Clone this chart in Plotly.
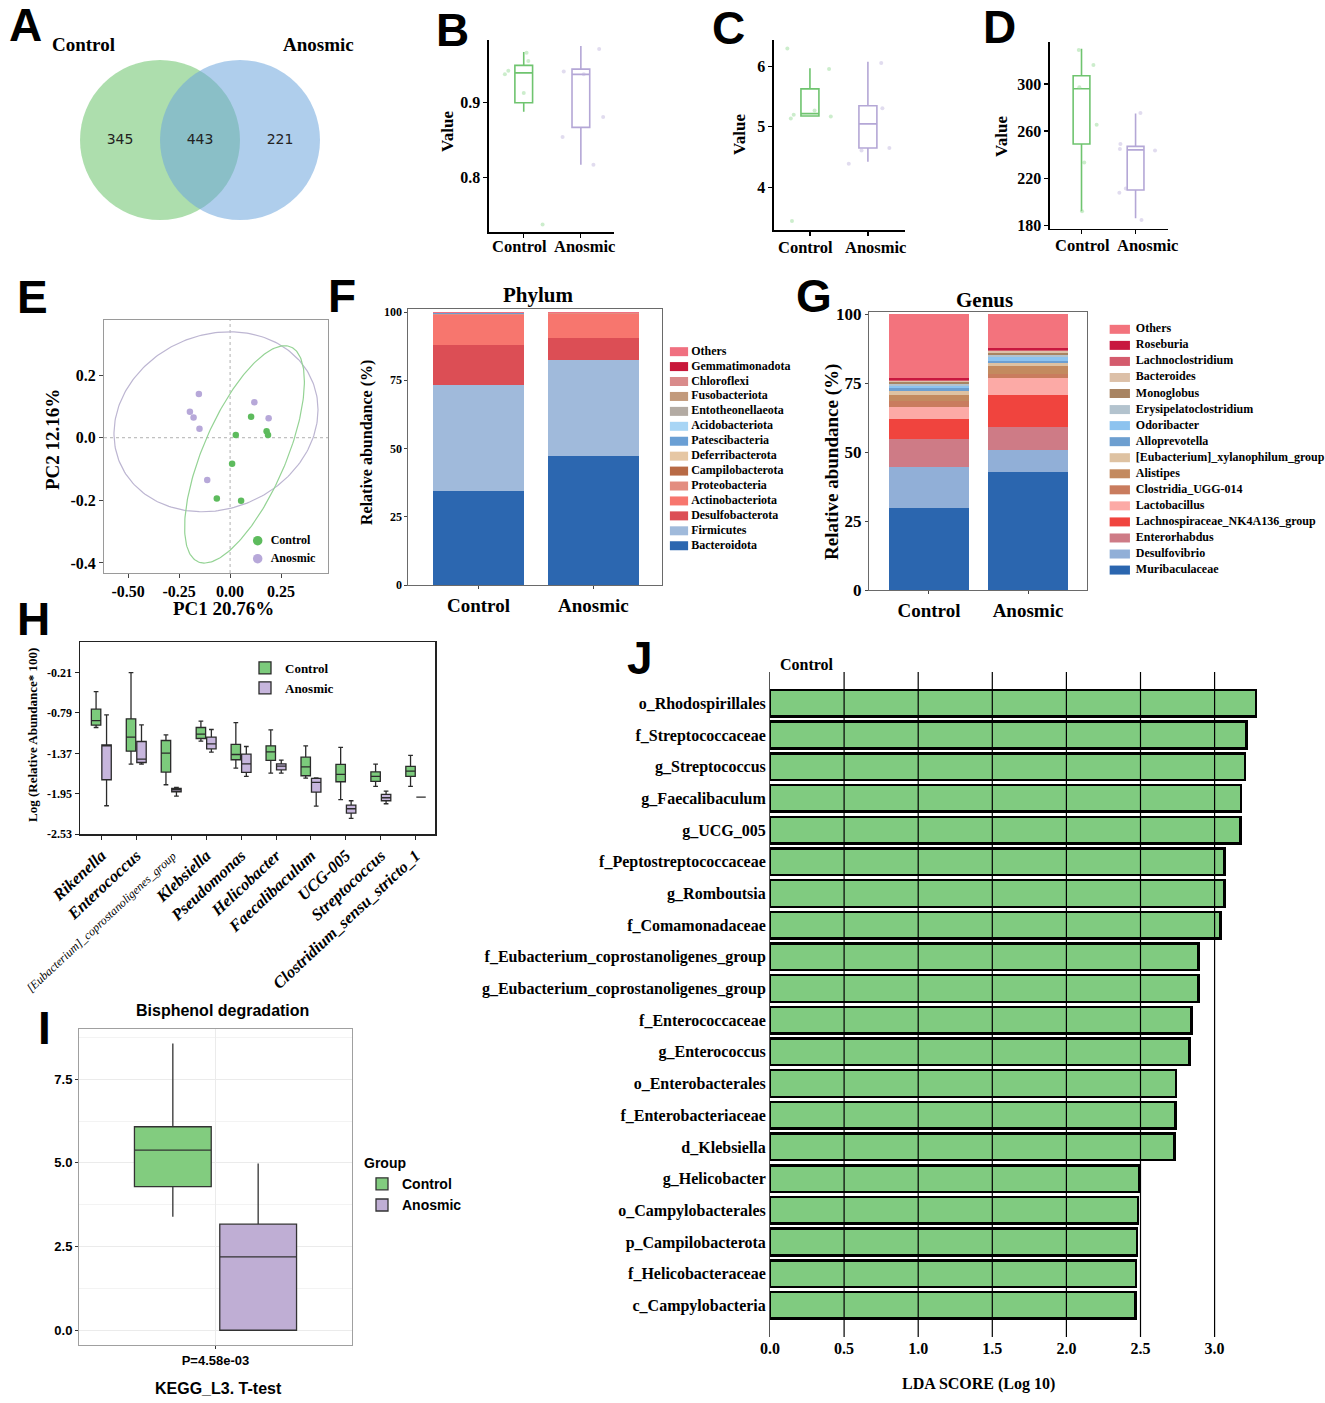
import numpy as np
import plotly.graph_objects as go

W, H = 1325, 1403
SERIF = "Liberation Serif"
SANS = "Liberation Sans"
NB = "\u00a0"

# ------------------------------------------------------------------ data
groups = ["Control", "Anosmic"]

# A  Venn diagram (OTU counts): Control only, shared, Anosmic only
venn_counts = [345, 443, 221]

# B, C, D  alpha diversity boxes: [lower whisker, q1, median, q3, upper whisker]
b_box = {"Control": [0.888, 0.900, 0.940, 0.950, 0.968],
         "Anosmic": [0.817, 0.867, 0.938, 0.945, 0.976]}
c_box = {"Control": [5.18, 5.18, 5.22, 5.63, 5.97],
         "Anosmic": [4.42, 4.65, 5.05, 5.35, 6.08]}
d_box = {"Control": [192, 249, 296, 307, 330],
         "Anosmic": [186, 210, 244, 247, 275]}
# faint sample points (jitter offset from group, value)
b_pts_off = {"Control": [-0.33, -0.27, 0.00, 0.05, 0.08, 0.33],
             "Anosmic": [-0.30, -0.32, 0.05, 0.32, 0.39, 0.22]}
b_pts_val = {"Control": [0.938, 0.943, 0.913, 0.967, 0.956, 0.737],
             "Anosmic": [0.942, 0.854, 0.938, 0.972, 0.881, 0.817]}
c_pts_off = {"Control": [-0.39, -0.33, -0.28, -0.31, 0.08, 0.33, 0.36],
             "Anosmic": [-0.33, -0.11, 0.23, 0.25, 0.37]}
c_pts_val = {"Control": [6.30, 5.14, 5.20, 3.44, 5.27, 5.96, 5.17],
             "Anosmic": [4.39, 4.61, 6.06, 5.31, 4.65]}
d_pts_off = {"Control": [-0.05, 0.22, -0.04, 0.28, 0.05, 0.01],
             "Anosmic": [0.09, -0.28, -0.29, 0.36, -0.30, -0.18, 0.11]}
d_pts_val = {"Control": [328.9, 316.1, 297.2, 265.4, 233.4, 192.0],
             "Anosmic": [275.4, 249.0, 244.8, 243.6, 207.6, 211.3, 184.4]}

# E  PCA
pca_ctrl_pc1 = [0.103, 0.028, 0.179, 0.186, 0.010, -0.065, 0.054]
pca_ctrl_pc2 = [0.067, 0.009, 0.021, 0.009, -0.083, -0.194, -0.201]
pca_anos_pc1 = [-0.153, -0.197, -0.179, -0.150, 0.119, 0.189, -0.112]
pca_anos_pc2 = [0.140, 0.083, 0.065, 0.029, 0.113, 0.062, -0.135]

# F  phylum composition (%), stacked bottom -> top
phylum_names = ["Bacteroidota", "Firmicutes", "Desulfobacterota", "Actinobacteriota",
                "Proteobacteria", "Campilobacterota", "Deferribacterota", "Patescibacteria",
                "Acidobacteriota", "Entotheonellaeota", "Fusobacteriota", "Chloroflexi",
                "Gemmatimonadota", "Others"]
phylum_control = [34.6, 38.5, 15.0, 10.8, 0.4, 0.1, 0.05, 0.03, 0.02, 0.02, 0.02, 0.02, 0.01, 0.43]
phylum_anosmic = [47.4, 35.2, 8.0, 8.8, 0.2, 0.05, 0.02, 0.01, 0.01, 0.01, 0.01, 0.01, 0.01, 0.27]
phylum_colors = ["#2C67B0", "#A0BADB", "#DC4E55", "#F7766E", "#E38D80", "#B86A45",
                 "#E6C7A4", "#6A9FD4", "#A8D5F5", "#B3ABA3", "#C29A7C", "#D98B8B",
                 "#C8173A", "#F07080"]

# G  genus composition (%), stacked bottom -> top
genus_names = ["Muribaculaceae", "Desulfovibrio", "Enterorhabdus",
               "Lachnospiraceae_NK4A136_group", "Lactobacillus", "Clostridia_UGG-014",
               "Alistipes", "[Eubacterium]_xylanophilum_group", "Alloprevotella",
               "Odoribacter", "Erysipelatoclostridium", "Monoglobus", "Bacteroides",
               "Lachnoclostridium", "Roseburia", "Others"]
genus_control = [29.7, 15.0, 10.2, 7.0, 4.5, 2.0, 2.3, 1.3, 1.2, 0.8, 0.7, 0.8, 0.4, 0.3, 0.7, 23.1]
genus_anosmic = [42.9, 7.8, 8.5, 11.4, 6.1, 1.7, 2.9, 0.9, 0.9, 1.3, 0.7, 0.8, 0.7, 0.5, 0.6, 12.3]
genus_colors = ["#2B66AF", "#91AFD7", "#CE7B86", "#F0443E", "#FCAAA6", "#C97C5E",
                "#C38A5F", "#DEC2A2", "#6D9FD0", "#8DC3EF", "#B3C3CE", "#A88462",
                "#DCC0A8", "#D45B6D", "#C8173F", "#F3737D"]

# H  differential genera, log(relative abundance*100)
h_genera = ["Rikenella", "Enterococcus", "[Eubacterium]_coprostanoligenes_group",
            "Klebsiella", "Pseudomonas", "Helicobacter", "Faecalibaculum", "UCG-005",
            "Streptococcus", "Clostridium_sensu_stricto_1"]
h_yticks = [-2.53, -1.95, -1.37, -0.79, -0.21]
h_ctrl_low = [-0.999, -1.526, -1.822, -1.196, -1.583, -1.655, -1.727, -2.037, -1.846, -1.846]
h_ctrl_q1 = [-0.966, -1.339, -1.640, -1.157, -1.463, -1.473, -1.693, -1.779, -1.774, -1.703]
h_ctrl_med = [-0.899, -1.138, -1.368, -1.095, -1.387, -1.349, -1.564, -1.674, -1.703, -1.626]
h_ctrl_q3 = [-0.736, -0.875, -1.186, -0.999, -1.243, -1.262, -1.425, -1.530, -1.636, -1.559]
h_ctrl_up = [-0.483, -0.210, -1.105, -0.908, -0.928, -1.033, -1.262, -1.286, -1.526, -1.401]
h_anos_low = [-2.124, -1.526, -1.985, -1.353, -1.703, -1.655, -2.128, -2.305, -2.095, -2.000]
h_anos_q1 = [-1.750, -1.502, -1.923, -1.306, -1.645, -1.607, -1.927, -2.229, -2.052, -2.000]
h_anos_med = [-1.262, -1.454, -1.894, -1.234, -1.521, -1.554, -1.789, -2.167, -2.009, -2.000]
h_anos_q3 = [-1.248, -1.200, -1.875, -1.138, -1.382, -1.521, -1.731, -2.114, -1.961, -2.000]
h_anos_up = [-0.818, -0.961, -1.860, -1.028, -1.272, -1.468, -1.722, -2.052, -1.913, -2.000]

# I  Bisphenol degradation (KEGG L3): [lower whisker, q1, median, q3, upper whisker]
i_category = "P=4.58e-03"
i_ctrl = [3.39, 4.29, 5.38, 6.08, 8.57]
i_anos = [0.00, 0.00, 2.19, 3.17, 4.98]

# J  LEfSe LDA scores
lda_features = ["o_Rhodospirillales", "f_Streptococcaceae", "g_Streptococcus",
                "g_Faecalibaculum", "g_UCG_005", "f_Peptostreptococcaceae", "g_Romboutsia",
                "f_Comamonadaceae", "f_Eubacterium_coprostanoligenes_group",
                "g_Eubacterium_coprostanoligenes_group", "f_Enterococcaceae", "g_Enterococcus",
                "o_Enterobacterales", "f_Enterobacteriaceae", "d_Klebsiella", "g_Helicobacter",
                "o_Campylobacterales", "p_Campilobacterota", "f_Helicobacteraceae",
                "c_Campylobacteria"]
lda_scores = [3.279, 3.215, 3.204, 3.178, 3.175, 3.067, 3.067, 3.041, 2.892, 2.892,
              2.844, 2.832, 2.739, 2.736, 2.728, 2.493, 2.482, 2.478, 2.471, 2.467]
lda_ticks = [0.0, 0.5, 1.0, 1.5, 2.0, 2.5, 3.0]

# ------------------------------------------------------------------ helpers
fig = go.Figure()
layout = dict(width=W, height=H, margin=dict(l=0, r=0, t=0, b=0),
              paper_bgcolor="white", plot_bgcolor="rgba(0,0,0,0)",
              showlegend=True, boxmode="group", boxgap=0.4, boxgroupgap=0.1,
              barmode="stack")
shapes, annotations = [], []
n_ax = [0]


def add_axes(xpx, ypx, xkw, ykw):
    n_ax[0] += 1
    s = "" if n_ax[0] == 1 else str(n_ax[0])
    base = dict(showgrid=False, zeroline=False, automargin=False, fixedrange=True)
    xa = dict(base, domain=[xpx[0] / W, xpx[1] / W], anchor="y" + s)
    xa.update(xkw)
    ya = dict(base, domain=[1 - ypx[1] / H, 1 - ypx[0] / H], anchor="x" + s)
    ya.update(ykw)
    layout["xaxis" + s] = xa
    layout["yaxis" + s] = ya
    return "x" + s, "y" + s


def font(size, family=SERIF, bold=True, color="black", italic=False):
    f = dict(family=family, size=size, color=color)
    if bold:
        f["weight"] = "bold"
    if italic:
        f["style"] = "italic"
    return f


def ann(text, x, y, size, family=SERIF, bold=True, angle=0, xanchor="center"):
    annotations.append(dict(text=text, x=x / W, y=1 - y / H, xref="paper", yref="paper",
                            showarrow=False, textangle=angle, xanchor=xanchor,
                            yanchor="middle", font=font(size, family, bold)))


HIDDEN = dict(visible=False)

# ------------------------------------------------------------------ A  Venn
xa, ya = add_axes((40, 360), (40, 240), dict(HIDDEN, range=[-2, 2]),
                  dict(HIDDEN, range=[-1.25, 1.25]))
venn_centers = [-0.5, 0.5]
venn_r = 1.0
venn_fill = ["rgba(118,200,118,0.6)", "rgba(110,165,220,0.55)"]
for cx, col in zip(venn_centers, venn_fill):
    shapes.append(dict(type="circle", xref=xa, yref=ya, x0=cx - venn_r, x1=cx + venn_r,
                       y0=-venn_r, y1=venn_r, fillcolor=col, line=dict(width=0),
                       layer="below"))
venn_x = [((venn_centers[0] - venn_r) + (venn_centers[1] - venn_r)) / 2,
          (venn_centers[0] + venn_centers[1]) / 2,
          ((venn_centers[0] + venn_r) + (venn_centers[1] + venn_r)) / 2]
fig.add_trace(go.Scatter(x=venn_x, y=[0, 0, 0], mode="text",
                         text=[str(v) for v in venn_counts],
                         textfont=dict(family="DejaVu Sans", size=14, color="#222"),
                         showlegend=False, hoverinfo="skip", xaxis=xa, yaxis=ya))
ann("Control", 83, 44, 19)
ann("Anosmic", 318, 44, 19)

# ------------------------------------------------------------------ B, C, D
LINE = {"Control": "#6FC46F", "Anosmic": "#B4A7D6"}
PT = {"Control": "#8ED68E", "Anosmic": "#BDB2DC"}


def alpha_panel(xpx, ypx, xrange, yrange, ytickvals, yticktext, box, offs, vals,
                label_x, label_y):
    axis_common = dict(showline=True, linecolor="black", linewidth=1.6, ticks="outside",
                       ticklen=4, tickcolor="black", tickwidth=1.2)
    xa, ya = add_axes(xpx, ypx,
                      dict(axis_common, range=xrange, tickvals=[0, 1], ticktext=["", ""],
                           tickangle=0, tickfont=font(16)),
                      dict(axis_common, range=yrange, tickvals=ytickvals,
                           ticktext=yticktext, tickfont=font(16)))
    for i, g in enumerate(groups):
        s = box[g]
        fig.add_trace(go.Box(x=[i], lowerfence=[s[0]], q1=[s[1]], median=[s[2]],
                             q3=[s[3]], upperfence=[s[4]], width=0.31,
                             fillcolor="rgba(255,255,255,0)",
                             line=dict(color=LINE[g], width=1.6), whiskerwidth=0,
                             boxpoints=False, showlegend=False, hoverinfo="skip",
                             xaxis=xa, yaxis=ya))
        fig.add_trace(go.Scatter(x=[i + o for o in offs[g]], y=vals[g], mode="markers",
                                 marker=dict(size=4, color=PT[g], opacity=0.45),
                                 showlegend=False, hoverinfo="skip", xaxis=xa, yaxis=ya))
        ann(g, label_x[i], label_y, 16.5)


alpha_panel((489, 614), (40, 232), [-0.608, 1.58], [0.727, 0.984], [0.8, 0.9],
            ["0.8", "0.9"], b_box, b_pts_off, b_pts_val, [519.5, 584], 246)
alpha_panel((774, 905), (40, 230), [-0.62, 1.64], [3.29, 6.44], [4, 5, 6],
            ["4", "5", "6"], c_box, c_pts_off, c_pts_val, [806, 875], 247)
alpha_panel((1050, 1168), (41.7, 228.7), [-0.583, 1.6], [177.1, 335.9],
            [180, 220, 260, 300], ["180", "220", "260", "300"], d_box, d_pts_off,
            d_pts_val, [1082, 1147], 245)
ann("Value", 447, 132, 17, angle=-90)
ann("Value", 740, 135, 17, angle=-90)
ann("Value", 1002, 137, 17, angle=-90)

# ------------------------------------------------------------------ E  PCA
e_common = dict(showline=True, mirror=True, linecolor="#9A9A9A", linewidth=1,
                ticks="outside", ticklen=4, tickcolor="#444")
xa, ya = add_axes((104, 328), (320, 573),
                  dict(e_common, range=[-0.618, 0.48], tickvals=[-0.5, -0.25, 0, 0.25],
                       ticktext=["-0.50", "-0.25", "0.00", "0.25"], tickfont=font(16)),
                  dict(e_common, range=[-0.432, 0.376], tickvals=[-0.4, -0.2, 0, 0.2],
                       ticktext=["-0.4", "-0.2", "0.0", "0.2"], tickfont=font(16)))
shapes.append(dict(type="line", xref=xa, yref=ya + " domain", x0=0, x1=0, y0=0, y1=1,
                   line=dict(color="#B0B0B0", width=1, dash="dot"), layer="below"))
shapes.append(dict(type="line", xref=xa + " domain", yref=ya, x0=0, x1=1, y0=0, y1=0,
                   line=dict(color="#B0B0B0", width=1, dash="dot"), layer="below"))


def conf_ellipse(px, py, level=0.95, n=240):
    pts = np.column_stack([px, py])
    k = len(pts)
    center = pts.mean(axis=0)
    cov = np.cov(pts.T)
    d2 = k - 1
    fq = d2 / 2 * ((1 - level) ** (-2 / d2) - 1)  # F(2, n-1) quantile
    radius = np.sqrt(2 * fq)
    chol = np.linalg.cholesky(cov)
    t = np.linspace(0, 2 * np.pi, n)
    circ = np.vstack([np.cos(t), np.sin(t)])
    ell = center[:, None] + radius * chol @ circ
    return ell[0], ell[1]


for px_, py_, lc, mc in [(pca_anos_pc1, pca_anos_pc2, "#BDB6D2", "#B7A8D9"),
                         (pca_ctrl_pc1, pca_ctrl_pc2, "#94D394", "#5DBB5D")]:
    ex, ey = conf_ellipse(px_, py_)
    fig.add_trace(go.Scatter(x=ex, y=ey, mode="lines", line=dict(color=lc, width=1.2),
                             showlegend=False, hoverinfo="skip", xaxis=xa, yaxis=ya))
    fig.add_trace(go.Scatter(x=px_, y=py_, mode="markers", marker=dict(size=6.5, color=mc),
                             showlegend=False, hoverinfo="skip", xaxis=xa, yaxis=ya))
ann("PC1 20.76%", 223, 609, 19)
ann("PC2 12.16%", 53, 440, 19, angle=-90)

# E legend (scatter based)
xa, ya = add_axes((257.7, 330), (531.7, 567.7), dict(HIDDEN, range=[0, 1]),
                  dict(HIDDEN, type="category", range=[1.5, -0.5]))
fig.add_trace(go.Scatter(x=[0, 0], y=groups, mode="markers+text",
                         text=[NB * 2 + g for g in groups],
                         textposition="middle right", textfont=font(12),
                         marker=dict(size=9.5, color=["#5DBB5D", "#B7A8D9"]),
                         cliponaxis=False, showlegend=False, hoverinfo="skip",
                         xaxis=xa, yaxis=ya))


# ------------------------------------------------------------------ F, G stacked bars
def stacked_panel(xpx, ypx, xrange, yrange, names, ctrl, anos, colors, width, ytick_size):
    common = dict(showline=True, mirror=True, linecolor="#6A6A6A", linewidth=1,
                  ticks="outside", ticklen=3, tickcolor="#444")
    xa, ya = add_axes(xpx, ypx,
                      dict(common, range=xrange, tickvals=[0, 1], ticktext=groups,
                           tickangle=0, tickfont=font(19)),
                      dict(common, range=yrange, tickvals=[0, 25, 50, 75, 100],
                           tickfont=font(ytick_size)))
    for nm, c, a, col in zip(names, ctrl, anos, colors):
        fig.add_trace(go.Bar(x=[0, 1], y=[c, a], name=nm, width=width,
                             marker=dict(color=col, line=dict(width=0)),
                             showlegend=False, hoverinfo="skip", xaxis=xa, yaxis=ya))


def swatch_legend(xpx, ypx, names, colors, thick, swatch_w, fsize, prefix=""):
    xa, ya = add_axes(xpx, ypx, dict(HIDDEN, range=[0, 1]),
                      dict(HIDDEN, type="category", range=[len(names) - 0.5, -0.5]))
    fig.add_trace(go.Scatter(x=[0] * len(names), y=names[::-1], mode="markers+text",
                             text=[prefix + n for n in names[::-1]],
                             textposition="middle right", textfont=font(fsize),
                             marker=dict(symbol="line-ew", size=swatch_w,
                                         line=dict(color=colors[::-1], width=thick)),
                             cliponaxis=False, showlegend=False, hoverinfo="skip",
                             xaxis=xa, yaxis=ya))


stacked_panel((408.3, 662.3), (309.3, 585), [-0.611, 1.6], [0, 101], phylum_names,
              phylum_control, phylum_anosmic, phylum_colors, 0.797, 12)
swatch_legend((679, 840), (344.2, 553.2), phylum_names, phylum_colors, 9, 13, 12, NB)
ann("Phylum", 538, 295, 21)
ann("Relative abundance (%)", 367, 443, 16, angle=-90)

stacked_panel((869, 1087), (311.7, 590), [-0.606, 1.596], [0, 100.9], genus_names,
              genus_control, genus_anosmic, genus_colors, 0.8, 17)
swatch_legend((1119.8, 1325), (321.3, 578.1), genus_names, genus_colors, 9, 14.5, 12,
              NB * 2)
ann("Genus", 985, 300, 21)
ann("Relative abundance (%)", 832, 462, 19, angle=-90)

# ------------------------------------------------------------------ H  boxplots
h_common = dict(showline=True, mirror=True, linecolor="#222", linewidth=1.5,
                ticks="outside", ticklen=4, tickcolor="#222")
h_ticktext = [("<span style='font-size:12px;font-weight:normal'>%s</span>" % g)
              if len(g) > 30 else g for g in h_genera]
xa, ya = add_axes((80, 435), (642, 834),
                  dict(h_common, type="category", range=[-0.61, 9.55], tickvals=h_genera,
                       ticktext=h_ticktext, tickangle=-43,
                       tickfont=font(16.5, italic=True)),
                  dict(h_common, range=[-2.53, 0.23], tickvals=h_yticks,
                       ticktext=["%.2f" % v for v in h_yticks], tickfont=font(12)))
for nm, low, q1, med, q3, up, fc in [
        ("Control", h_ctrl_low, h_ctrl_q1, h_ctrl_med, h_ctrl_q3, h_ctrl_up, "#7CCB7C"),
        ("Anosmic", h_anos_low, h_anos_q1, h_anos_med, h_anos_q3, h_anos_up, "#C7B6DD")]:
    fig.add_trace(go.Box(x=h_genera, lowerfence=low, q1=q1, median=med, q3=q3,
                         upperfence=up, name=nm, fillcolor=fc,
                         line=dict(color="#2B2B2B", width=1.3), whiskerwidth=0.5,
                         boxpoints=False, legend="legend", hoverinfo="skip",
                         offsetgroup="h_" + nm, alignmentgroup="h",
                         xaxis=xa, yaxis=ya))
ann("Log (Relative Abundance* 100)", 32, 735, 13, angle=-90)
layout["legend"] = dict(x=245 / W, y=1 - 653 / H, xanchor="left", yanchor="top",
                        bgcolor="rgba(0,0,0,0)", font=font(13), tracegroupgap=0,
                        traceorder="normal", itemclick=False, itemdoubleclick=False)

# ------------------------------------------------------------------ I  KEGG box
i_common = dict(showline=True, mirror=True, linecolor="#A0A0A0", linewidth=1,
                ticks="outside", ticklen=3, tickcolor="#333", showgrid=True,
                gridcolor="#EBEBEB", gridwidth=1)
xa, ya = add_axes((79, 352), (1029, 1345),
                  dict(i_common, type="category", range=[-0.48, 0.48],
                       tickfont=font(13, SANS)),
                  dict(i_common, range=[-0.44, 9.0], tickvals=[0, 2.5, 5, 7.5],
                       ticktext=["0.0", "2.5", "5.0", "7.5"], tickfont=font(13, SANS),
                       minor=dict(tickvals=[1.25, 3.75, 6.25, 8.75], showgrid=True,
                                  gridcolor="#F3F3F3", ticks="")))
for nm, s, fc in [("Control", i_ctrl, "#82CC7F"), ("Anosmic", i_anos, "#BFAED4")]:
    fig.add_trace(go.Box(x=[i_category], lowerfence=[s[0]], q1=[s[1]], median=[s[2]],
                         q3=[s[3]], upperfence=[s[4]], name=nm, fillcolor=fc,
                         line=dict(color="#333333", width=1.3), whiskerwidth=0,
                         boxpoints=False, legend="legend2", hoverinfo="skip",
                         offsetgroup="i_" + nm, alignmentgroup="i",
                         xaxis=xa, yaxis=ya))
ann("Bisphenol degradation", 222, 1010, 16, family=SANS)
ann("KEGG_L3. T-test", 218, 1388, 16, family=SANS)
layout["legend2"] = dict(x=362 / W, y=1 - 1150 / H, xanchor="left", yanchor="top",
                         bgcolor="rgba(0,0,0,0)", font=font(14, SANS),
                         title=dict(text="Group", font=font(14, SANS, bold=False)),
                         tracegroupgap=0, traceorder="normal",
                         itemclick=False, itemdoubleclick=False)

# ------------------------------------------------------------------ J  LDA
xa, ya = add_axes((770, 1263.5), (672, 1337),
                  dict(range=[0, 3.33], tickvals=lda_ticks,
                       ticktext=["%.1f" % v for v in lda_ticks], ticks="",
                       tickfont=font(16)),
                  dict(type="category", range=[len(lda_features) - 1 + 1.0, -0.99],
                       showline=True, linecolor="#555", linewidth=1, ticks="",
                       tickfont=font(16)))
fig.add_trace(go.Bar(y=lda_features, x=lda_scores, orientation="h", width=0.84,
                     marker=dict(color="#80CB80", line=dict(color="black", width=2.5)),
                     showlegend=False, hoverinfo="skip", xaxis=xa, yaxis=ya))
for v in lda_ticks[1:]:
    shapes.append(dict(type="line", xref=xa, yref=ya + " domain", x0=v, x1=v, y0=0, y1=1,
                       line=dict(color="black", width=1.2), layer="above"))
ann("Control", 807, 664, 16)
ann("LDA SCORE (Log 10)", 978, 1384, 16)

# ------------------------------------------------------------------ panel letters
for letter, x, y in [("A", 25, 25), ("B", 452, 30), ("C", 728, 28), ("D", 999, 27),
                     ("E", 32, 297), ("F", 342, 296), ("G", 814, 296), ("H", 33, 619),
                     ("I", 44, 1028), ("J", 640, 658)]:
    ann(letter, x, y, 46, family=SANS)

layout["shapes"] = shapes
layout["annotations"] = annotations
fig.update_layout(**layout)
fig.write_html("out.html", config={"displayModeBar": False, "staticPlot": True},
               post_script="document.body.style.margin='0';")
